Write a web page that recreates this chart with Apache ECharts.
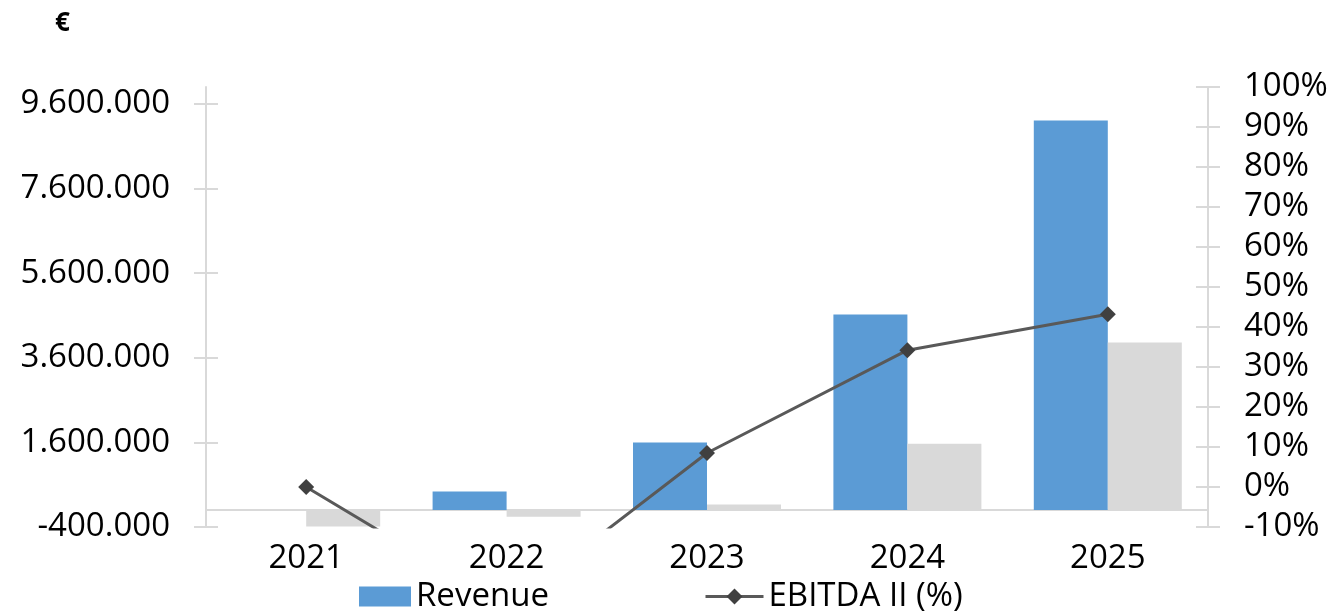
<!DOCTYPE html>
<html>
<head>
<meta charset="utf-8">
<script src="https://cdn.jsdelivr.net/npm/echarts@6/dist/echarts.min.js"></script>
<style>
    html, body { margin: 0; padding: 0; background: #fff; }
    #id-div-chart { width: 1333px; height: 612px; }
</style>
</head>
<body>
<div id="id-div-chart"></div>
<script>
var log = console.log.bind(console)

var e = (selector) => document.querySelector(selector)

// 数据
var years = ['2021', '2022', '2023', '2024', '2025']
var revenue = [0, 440000, 1600000, 4620000, 9210000]
var ebitda = [-390000, -160000, 130000, 1570000, 3960000]
var ebitdaPercent = [0, -30, 8.5, 34.2, 43.2]
var leftTicks = [-400000, 1600000, 3600000, 5600000, 7600000, 9600000]

var font = 'Open Sans'
var gridColor = '#D9D9D9'

var dotted = function(value) {
    var sign = value < 0 ? '-' : ''
    var s = String(Math.abs(Math.round(value)))
    s = s.replace(/\B(?=(\d{3})+(?!\d))/g, '.')
    return sign + s
}

var labelStyle = {
    color: '#000',
    fontFamily: font,
    fontSize: 33,
}

var configuredChart = function() {
    var element = e('#id-div-chart')
    var chart = echarts.init(element)
    return chart
}

var chartOption = function() {
    var grid = {
        left: 206,
        right: 125,
        top: 87,
        bottom: 85,
    }
    var option = {
        animation: false,
        backgroundColor: '#fff',
        title: {
            text: '€',
            left: 50,
            top: 6,
            textStyle: {
                fontFamily: font,
                fontSize: 26,
                fontWeight: 'bold',
                color: '#000',
            },
        },
        grid: grid,
        legend: [
            {
                left: 354,
                top: 575,
                itemWidth: 52,
                itemHeight: 20,
                itemGap: 0,
                icon: 'rect',
                textStyle: labelStyle,
                data: ['Revenue'],
            },
            {
                left: 699,
                top: 575,
                itemWidth: 58,
                itemHeight: 20,
                itemGap: 0,
                lineStyle: { width: 3 },
                textStyle: labelStyle,
                data: ['EBITDA II (%)'],
            },
        ],
        xAxis: [
            {
                type: 'category',
                data: years,
                axisLine: {
                    onZero: true,
                    lineStyle: { color: gridColor, width: 2 },
                },
                axisTick: {
                    length: 11,
                    lineStyle: { color: gridColor, width: 2 },
                },
                axisLabel: Object.assign({ margin: 15 }, labelStyle),
                splitLine: { show: false },
            },
            {
                type: 'category',
                data: years,
                position: 'bottom',
                axisLine: { show: false, onZero: true },
                axisTick: {
                    inside: true,
                    length: 11,
                    lineStyle: { color: gridColor, width: 2 },
                },
                axisLabel: { show: false },
                splitLine: { show: false },
            },
        ],
        yAxis: [
            {
                type: 'value',
                position: 'left',
                min: -400000,
                max: 10000000,
                interval: 2000000,
                axisLine: {
                    show: true,
                    lineStyle: { color: gridColor, width: 2 },
                },
                axisTick: {
                    show: true,
                    length: 12,
                    customValues: leftTicks,
                    lineStyle: { color: gridColor, width: 2 },
                },
                axisLabel: Object.assign({
                    margin: 36,
                    customValues: leftTicks,
                    formatter: dotted,
                }, labelStyle),
                splitLine: { show: false },
            },
            {
                type: 'value',
                position: 'right',
                min: -10,
                max: 100,
                interval: 10,
                axisLine: {
                    show: true,
                    lineStyle: { color: gridColor, width: 2 },
                },
                axisTick: {
                    show: true,
                    length: 12,
                    lineStyle: { color: gridColor, width: 2 },
                },
                axisLabel: Object.assign({
                    margin: 36,
                    formatter: '{value}%',
                }, labelStyle),
                splitLine: { show: false },
            },
            {
                type: 'value',
                position: 'left',
                min: -400000,
                max: 10000000,
                interval: 2000000,
                axisLine: { show: false },
                axisTick: {
                    show: true,
                    inside: true,
                    length: 12,
                    customValues: leftTicks,
                    lineStyle: { color: gridColor, width: 2 },
                },
                axisLabel: { show: false },
                splitLine: { show: false },
            },
            {
                type: 'value',
                position: 'right',
                min: -10,
                max: 100,
                interval: 10,
                axisLine: { show: false },
                axisTick: {
                    show: true,
                    inside: true,
                    length: 12,
                    lineStyle: { color: gridColor, width: 2 },
                },
                axisLabel: { show: false },
                splitLine: { show: false },
            },
        ],
        series: [
            {
                name: 'Revenue',
                type: 'bar',
                yAxisIndex: 0,
                data: revenue,
                barWidth: 74,
                barGap: '0%',
                itemStyle: { color: '#5B9BD5' },
            },
            {
                name: 'EBITDA II',
                type: 'bar',
                yAxisIndex: 0,
                data: ebitda,
                barWidth: 74,
                barGap: '0%',
                itemStyle: { color: '#D9D9D9' },
            },
            {
                name: 'EBITDA II (%)',
                type: 'line',
                yAxisIndex: 1,
                data: ebitdaPercent,
                clip: true,
                symbol: 'diamond',
                symbolSize: 16,
                lineStyle: { color: '#595959', width: 3 },
                itemStyle: { color: '#404040', borderWidth: 0 },
            },
        ],
    }
    return option
}

var __main = function() {
    var chart = configuredChart()
    chart.setOption(chartOption())
}

__main()
</script>
</body>
</html>
